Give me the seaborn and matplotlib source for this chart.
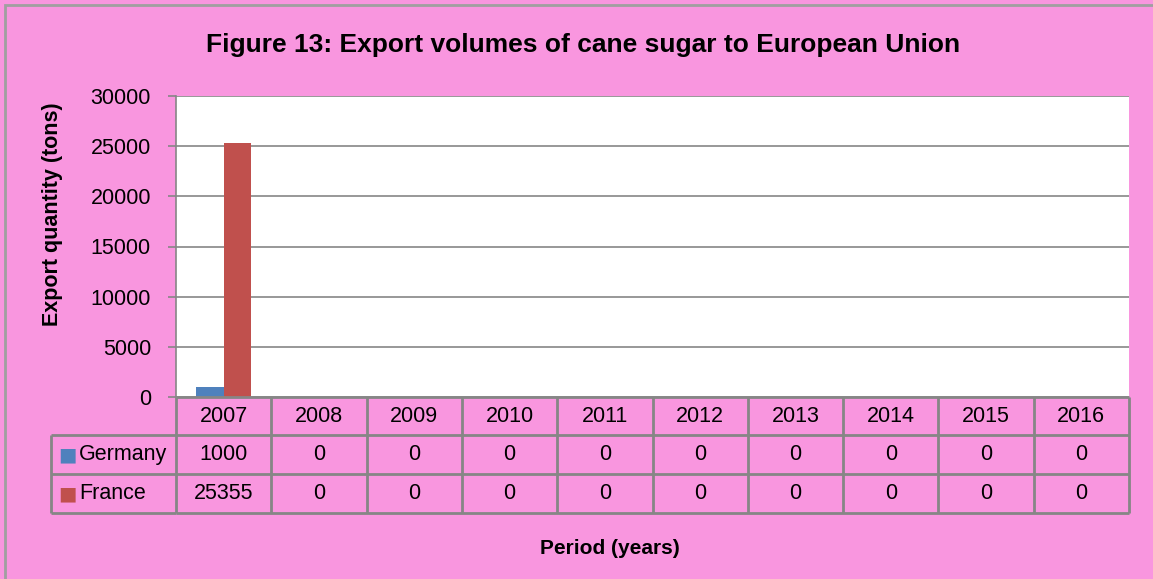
import matplotlib
matplotlib.use("Agg")
import matplotlib.pyplot as plt
import matplotlib.transforms as mtransforms
from matplotlib.patches import Rectangle
import seaborn as sns
import pandas as pd

years = ["2007", "2008", "2009", "2010", "2011", "2012", "2013", "2014", "2015", "2016"]
germany = [1000, 0, 0, 0, 0, 0, 0, 0, 0, 0]
france = [25355, 0, 0, 0, 0, 0, 0, 0, 0, 0]
series_names = ["Germany", "France"]
colors = ["#4F81BD", "#C0504D"]
yticks = [0, 5000, 10000, 15000, 20000, 25000, 30000]

title = "Figure 13: Export volumes of cane sugar to European Union"
ylabel = "Export quantity (tons)"
xlabel = "Period (years)"

sns.set_theme(style="white")
plt.rcParams["font.family"] = ["Liberation Sans", "DejaVu Sans"]
plt.rcParams["text.color"] = "black"
plt.rcParams["ytick.labelcolor"] = "black"

PINK = "#F996DF"
GRID = "#868686"
FS = 15.5

W, H = 1153, 579
fig = plt.figure(figsize=(W / 100, H / 100), dpi=100)
fig.patch.set_facecolor(PINK)
# outer chart border (top and left visible)
fig.patches.append(Rectangle((5 / W, -0.5), 3, (H - 5) / H + 0.5, transform=fig.transFigure,
                             fill=False, edgecolor="#A0A0A0", linewidth=2))

left, right = 176 / W, 1129 / W
bottom, top = (H - 397) / H, (H - 96) / H
ax = fig.add_axes([left, bottom, right - left, top - bottom])
ax.set_facecolor("white")

df = pd.DataFrame({
    "Year": years * 2,
    "Country": [series_names[0]] * len(years) + [series_names[1]] * len(years),
    "Value": germany + france,
})
sns.barplot(data=df, x="Year", y="Value", hue="Country", palette=colors, width=0.57,
            saturation=1, ax=ax, legend=False, linewidth=0)

ax.set_ylim(0, 30000)
ax.set_xlim(-0.5, len(years) - 0.5)
ax.set_yticks(yticks)
ax.set_yticklabels([str(v) for v in yticks], fontsize=FS, color="black")
ax.yaxis.grid(True, color=GRID, linewidth=1.2)
ax.set_axisbelow(True)
ax.tick_params(axis="y", which="both", left=True, length=6, width=1.2, color=GRID, pad=12)
ax.set_xticks([])
ax.set_xlabel("")
ax.set_ylabel("")
for s in ["top", "right", "bottom"]:
    ax.spines[s].set_visible(False)
ax.spines["left"].set_color(GRID)
ax.spines["left"].set_linewidth(1.2)

# data table below the plot
trans = mtransforms.blended_transform_factory(ax.transData, ax.transAxes)
axh = 397 - 96
y_hdr = -38 / axh
y_r1 = -77 / axh
y_r2 = -116 / axh
x_lab = -(176 - 51) / (1129 - 176)  # axes fraction for label column left edge
lw = 2
lkw = dict(color=GRID, linewidth=lw, clip_on=False, solid_capstyle="butt")
n = len(years)
ax.plot([-0.5, n - 0.5], [0, 0], transform=trans, **lkw)
for yy in [y_hdr, y_r1, y_r2]:
    ax.plot([-0.5, n - 0.5], [yy, yy], transform=trans, **lkw)
    ax.plot([x_lab, 0], [yy, yy], transform=ax.transAxes, **lkw)
ax.plot([x_lab, x_lab], [y_hdr, y_r2], transform=ax.transAxes, **lkw)
for i in range(n + 1):
    ax.plot([i - 0.5, i - 0.5], [0, y_r2], transform=trans, **lkw)

for i, yr in enumerate(years):
    ax.text(i, y_hdr / 2, yr, transform=trans, ha="center", va="center", fontsize=FS)
    ax.text(i, (y_hdr + y_r1) / 2, str(germany[i]), transform=trans, ha="center", va="center", fontsize=FS)
    ax.text(i, (y_r1 + y_r2) / 2, str(france[i]), transform=trans, ha="center", va="center", fontsize=FS)

for (ya, yb), name, c in zip([(y_hdr, y_r1), (y_r1, y_r2)], series_names, colors):
    ym = (ya + yb) / 2
    ax.text(x_lab + 7 / 953, ym, "\u25A0", transform=ax.transAxes, ha="left", va="center",
            fontsize=14, color=c, family=["DejaVu Sans"])
    ax.text(x_lab + 28 / 953, ym, name, transform=ax.transAxes, ha="left", va="center", fontsize=FS)

fig.text(583 / W, 1 - 45 / H, title, ha="center", va="center", fontsize=19, fontweight="bold")
fig.text(53 / W, 1 - 214 / H, ylabel, ha="center", va="center", rotation=90, fontsize=15.5, fontweight="bold")
fig.text(610 / W, 1 - 548 / H, xlabel, ha="center", va="center", fontsize=15, fontweight="bold")

fig.savefig("out.png", dpi=100, facecolor=PINK)
